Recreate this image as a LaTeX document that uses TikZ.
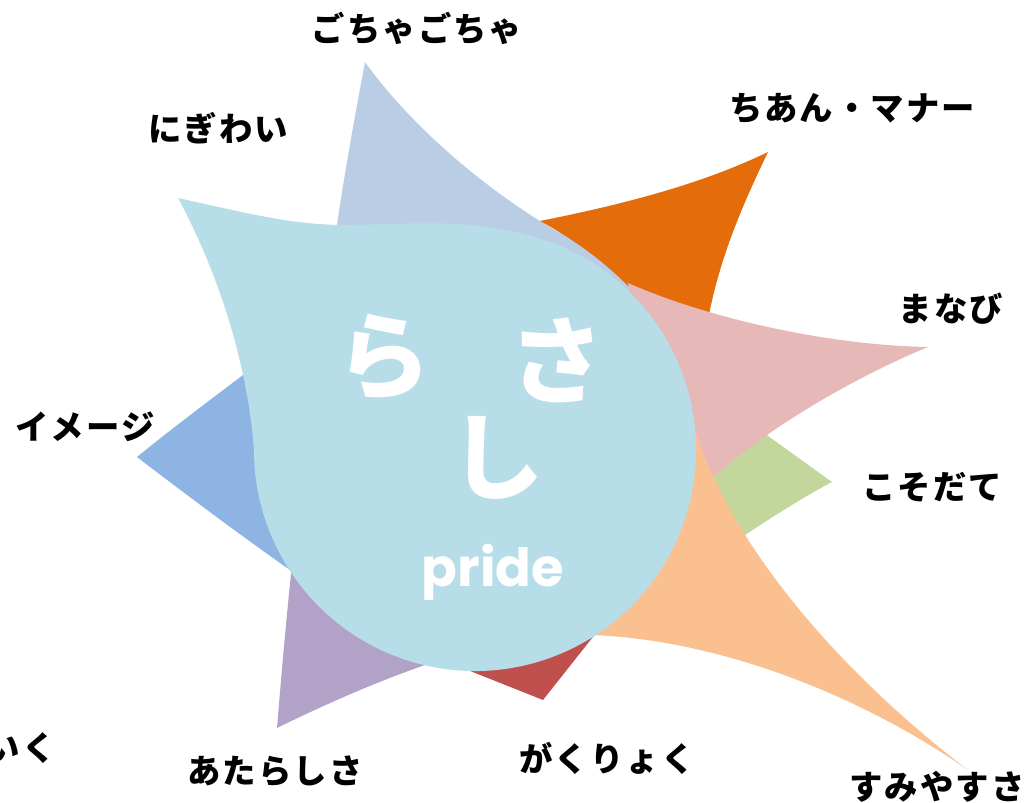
\documentclass[tikz,border=0pt]{standalone}
\usepackage{fontspec}
\usepackage{tikz}
\usepackage{xcolor}
\usetikzlibrary{calc}
\newfontfamily\jpfont[LetterSpace=6]{Noto Sans CJK JP}
\newfontfamily\jpbig{Noto Sans CJK JP}
\newfontfamily\pridefont{Poppins}
\definecolor{dropblue}{HTML}{B7DDE8}
\definecolor{grayblue}{HTML}{B9CDE5}
\definecolor{safeorange}{HTML}{E46C0A}
\definecolor{learnpink}{HTML}{E6B9B8}
\definecolor{kidgreen}{HTML}{C3D69B}
\definecolor{livepeach}{HTML}{FAC090}
\definecolor{imgblue}{HTML}{8EB4E3}
\definecolor{newpurple}{HTML}{B3A2C7}
\definecolor{studyred}{HTML}{C0504D}

\begin{document}
\begin{tikzpicture}[x=0.02cm, y=-0.02cm,
    word/.style={inner sep=0pt, text=black, font=\jpfont\bfseries\fontsize{19}{19}\selectfont},
    bigchar/.style={inner sep=0pt, text=white, font=\jpbig\bfseries\fontsize{54}{54}\selectfont},
    pridetext/.style={inner sep=0pt, text=white, font=\pridefont\bfseries\fontsize{30}{30}\selectfont}
]
\useasboundingbox (0,0) rectangle (1029,803);
\clip (0,0) rectangle (1029,803);

% Spikes (back to front)
\fill[grayblue] (365,62) .. controls (410,125) and (485,190) .. (560,233) -- (620,250) -- (665,310) -- (480,330) -- (330,300) -- (337,225) .. controls (345,170) and (356,110) .. (365,62) -- cycle;
\fill[safeorange] (540,221) .. controls (620,205) and (700,185) .. (768,152) .. controls (745,200) and (720,255) .. (708,320) -- (660,320) -- (632,290) .. controls (605,262) and (575,240) .. (540,221) -- cycle;
\fill[kidgreen] (725,405) -- (832,482) .. controls (760,520) and (660,595) .. (585,642) -- (600,560) -- cycle;
\fill[learnpink] (628,283) .. controls (700,315) and (820,345) .. (928,347) .. controls (860,375) and (760,430) .. (700,490) -- (650,420) -- cycle;
\fill[livepeach] (695,430) .. controls (735,555) and (850,680) .. (968,770) .. controls (860,695) and (720,640) .. (592,635) -- (620,560) -- cycle;
\fill[studyred] (430,655) -- (543,700) -- (600,628) -- (520,600) -- cycle;
\fill[newpurple] (292,565) .. controls (286,620) and (281,680) .. (277,728) .. controls (330,702) and (385,678) .. (440,660) -- (400,600) -- cycle;
\fill[imgblue] (243,375) -- (300,420) -- (300,560) -- (290,570) .. controls (240,535) and (180,490) .. (137,457) .. controls (170,430) and (210,400) .. (243,375) -- cycle;

% Drop
\fill[dropblue] (178,198) .. controls (250,214) and (290,224) .. (340,225) .. controls (420,224) and (470,218) .. ($(475,450)+(-75:221)$) arc[start angle=-75, end angle=180, radius=221] .. controls (248,370) and (222,280) .. (178,198) -- cycle;

% Centre text
\node[bigchar] (ra) at (384,357) {ら};
\node[bigchar] (sa) at (557,360) {さ};
\node[bigchar] (shi) at (497,458) {し};
\node[pridetext] (pride) at (493,572) {pride};

% Labels
\node[word] (gocha) at (417,28) {ごちゃごちゃ};
\node[word] (nigi) at (218,128) {にぎわい};
\node[word] (chian) at (852,108) {ちあん・マナー};
\node[word] (manabi) at (951,309) {まなび};
\node[word] (kosodate) at (932,487) {こそだて};
\node[word] (image) at (85,427) {イメージ};
\node[word, anchor=east] (iku) at (56,748) {いく};
\node[word] (atara) at (275,771) {あたらしさ};
\node[word] (gaku) at (607,758) {がくりょく};
\node[word] (sumi) at (937,787) {すみやすさ};

\end{tikzpicture}
\end{document}
